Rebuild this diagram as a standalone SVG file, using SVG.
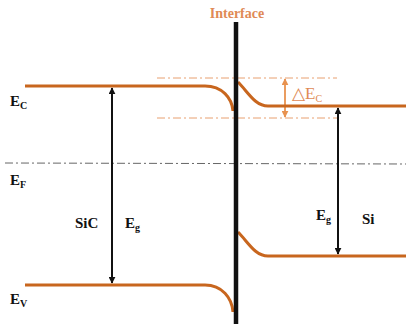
<svg xmlns="http://www.w3.org/2000/svg" width="406" height="324" viewBox="0 0 406 324">
<defs>
<marker id="ah" viewBox="0 0 10 10" refX="9" refY="5" markerWidth="7" markerHeight="7" orient="auto-start-reverse" markerUnits="userSpaceOnUse"><path d="M0,0 L10,5 L0,10 z" fill="#111"/></marker>
<marker id="aho" viewBox="0 0 10 10" refX="9" refY="5" markerWidth="7" markerHeight="7" orient="auto-start-reverse" markerUnits="userSpaceOnUse"><path d="M0,0 L10,5 L0,10 z" fill="#e8924f"/></marker>
</defs>
<style>
.band{fill:none;stroke:#c8661e;stroke-width:3}
.lbl{font-family:"Liberation Serif",serif;font-weight:bold;font-size:15px;fill:#111}
.sub{font-size:10px}
.ref{stroke:#e8a070;stroke-width:1;stroke-dasharray:8,3,2,3;fill:none}
</style>
<rect width="406" height="324" fill="#fff"/>
<g id="connectors">
<line class="ref" x1="157" y1="78" x2="337" y2="78"/>
<line class="ref" x1="157" y1="118" x2="337" y2="118"/>
<line x1="5" y1="163" x2="406" y2="164" stroke="#666" stroke-width="1" stroke-dasharray="8,3,2,3"/>
<line x1="112" y1="88" x2="112" y2="283" stroke="#111" stroke-width="2" marker-start="url(#ah)" marker-end="url(#ah)"/>
<line x1="338" y1="108" x2="338" y2="254" stroke="#111" stroke-width="2" marker-start="url(#ah)" marker-end="url(#ah)"/>
<line x1="285" y1="79" x2="285" y2="117" stroke="#e8924f" stroke-width="1.8" marker-start="url(#aho)" marker-end="url(#aho)"/>
</g>
<g id="bands">
<path class="band" d="M25,86 L205,86 C222,86 232,98 233,111"/>
<path class="band" d="M238,82 C248,92 255,106 268,106 L406,106"/>
<path class="band" d="M25,285 L205,285 C222,285 232,298 233,312"/>
<path class="band" d="M238,232 C248,242 255,256 268,256 L406,256"/>
</g>
<g id="interface">
<line x1="236" y1="22" x2="236" y2="324" stroke="#111" stroke-width="4.5"/>
<text x="237" y="18" text-anchor="middle" font-family="Liberation Serif,serif" font-weight="bold" font-size="14" fill="#e08a55">Interface</text>
</g>
<g id="labels">
<text class="lbl" x="10" y="106">E<tspan class="sub" dy="3">C</tspan></text>
<text class="lbl" x="10" y="185">E<tspan class="sub" dy="3">F</tspan></text>
<text class="lbl" x="10" y="304">E<tspan class="sub" dy="3">V</tspan></text>
<text class="lbl" x="75" y="228">SiC</text>
<text class="lbl" x="125" y="228">E<tspan class="sub" dy="3">g</tspan></text>
<text class="lbl" x="316" y="220">E<tspan class="sub" dy="3">g</tspan></text>
<text class="lbl" x="362" y="224">Si</text>
<text x="292" y="99" font-family="Liberation Serif,serif" font-size="17" fill="#e08a55">△E<tspan font-size="10" dy="3">C</tspan></text>
</g>
</svg>
